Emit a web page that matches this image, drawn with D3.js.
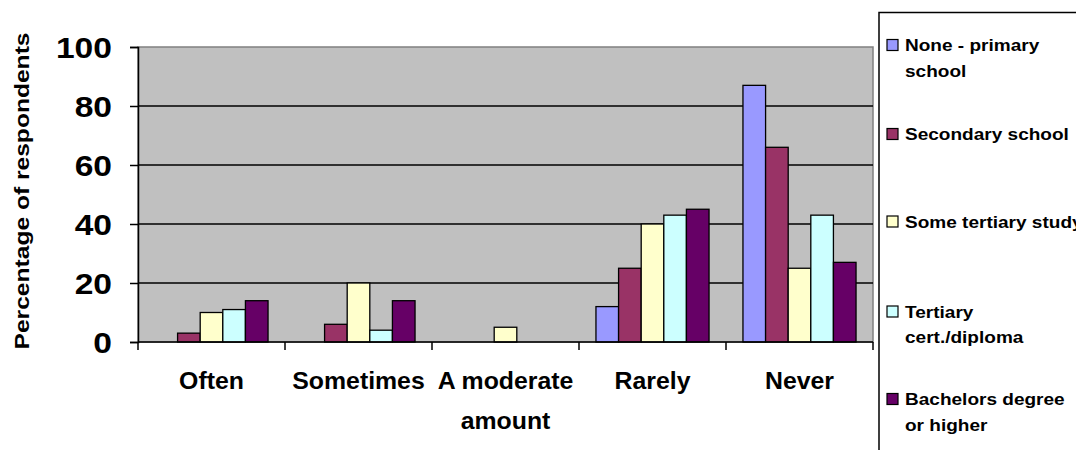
<!DOCTYPE html>
<html>
<head>
<meta charset="utf-8">
<script src="https://cdn.jsdelivr.net/npm/d3@7"></script>
<style>
  html, body { margin: 0; padding: 0; background: #fff; }
  svg { display: block; }
  text { font-family: "Liberation Sans", Arial, sans-serif; font-weight: bold; fill: #000; }
</style>
</head>
<body>
<svg id="chart" width="1076" height="450"></svg>
<script>
// Frequency categories along the x axis
const categories = ["Often", "Sometimes", "A moderate amount", "Rarely", "Never"];
// Category labels as drawn (wrapped lines)
const categoryLines = [["Often"], ["Sometimes"], ["A moderate", "amount"], ["Rarely"], ["Never"]];

// Education groups (series)
const seriesNames = ["None - primary school", "Secondary school", "Some tertiary study", "Tertiary cert./diploma", "Bachelors degree or higher"];
const legendLines = [["None - primary", "school"], ["Secondary school"], ["Some tertiary study"], ["Tertiary", "cert./diploma"], ["Bachelors degree", "or higher"]];
const seriesColors = ["#9999FF", "#993366", "#FFFFCC", "#CCFFFF", "#660066"];

// Percentage of respondents per category, one array per education group
const nonePrimary   = [0, 0, 0, 12, 87];
const secondary     = [3, 6, 0, 25, 66];
const someTertiary  = [10, 20, 5, 40, 25];
const tertiaryCert  = [11, 4, 0, 43, 43];
const bachelors     = [14, 14, 0, 45, 27];
const seriesValues = [nonePrimary, secondary, someTertiary, tertiaryCert, bachelors];

const yTicks = [0, 20, 40, 60, 80, 100];
const yTitle = "Percentage of respondents";

const svg = d3.select("#chart");
const plot = { left: 138, right: 873, top: 47, bottom: 342 };

const x0 = d3.scaleBand().domain(categories).range([plot.left, plot.right]).paddingInner(0).paddingOuter(0);
const x1 = d3.scaleBand().domain(seriesNames).range([0, x0.bandwidth()]).paddingInner(0).paddingOuter(0.75);
const y = d3.scaleLinear().domain([0, 100]).range([plot.bottom, plot.top]);

// Plot area background
svg.append("rect")
  .attr("x", plot.left).attr("y", plot.top)
  .attr("width", plot.right - plot.left).attr("height", plot.bottom - plot.top)
  .attr("fill", "#C0C0C0").attr("stroke", "#808080").attr("stroke-width", 1.5);

// Horizontal gridlines
svg.append("g").selectAll("line")
  .data(yTicks.filter(t => t > 0 && t < 100))
  .join("line")
  .attr("x1", plot.left).attr("x2", plot.right)
  .attr("y1", d => y(d)).attr("y2", d => y(d))
  .attr("stroke", "#000").attr("stroke-width", 1.5);

// Bars
const groups = svg.append("g").selectAll("g")
  .data(categories)
  .join("g")
  .attr("transform", d => `translate(${x0(d)},0)`);

groups.selectAll("rect")
  .data((c, ci) => seriesNames.map((s, si) => ({ s, si, v: seriesValues[si][ci] })).filter(d => d.v > 0))
  .join("rect")
  .attr("x", d => x1(d.s))
  .attr("width", x1.bandwidth())
  .attr("y", d => y(d.v))
  .attr("height", d => y(0) - y(d.v))
  .attr("fill", d => seriesColors[d.si])
  .attr("stroke", "#000").attr("stroke-width", 1.3);

// Y axis
const yAxis = d3.axisLeft(y).tickValues(yTicks).tickSize(8).tickFormat("");
const yg = svg.append("g").attr("transform", `translate(${plot.left},0)`).call(yAxis);
yg.selectAll("path, line").attr("stroke", "#000").attr("stroke-width", 1.5);

yg.selectAll(".tick").append("text")
  .attr("transform", "translate(-26,0) scale(1.12,1)")
  .attr("text-anchor", "end")
  .attr("dy", "0.36em")
  .style("font-size", "30px")
  .style("fill", "#000")
  .text(d => d);

// X axis with ticks on category boundaries
const xg = svg.append("g");
xg.append("line")
  .attr("x1", plot.left).attr("x2", plot.right)
  .attr("y1", plot.bottom).attr("y2", plot.bottom)
  .attr("stroke", "#000").attr("stroke-width", 1.5);
const boundaries = categories.map(c => x0(c)).concat([x0(categories[categories.length - 1]) + x0.bandwidth()]);
xg.selectAll("line.tk")
  .data(boundaries)
  .join("line")
  .attr("class", "tk")
  .attr("x1", d => d).attr("x2", d => d)
  .attr("y1", plot.bottom).attr("y2", plot.bottom + 8)
  .attr("stroke", "#000").attr("stroke-width", 1.5);

// Category labels
const catLabels = svg.append("g").selectAll("g")
  .data(categories)
  .join("g")
  .attr("transform", d => `translate(${x0(d) + x0.bandwidth() / 2},381) scale(1.08,1)`);
catLabels.selectAll("text")
  .data((d, i) => categoryLines[i])
  .join("text")
  .attr("text-anchor", "middle")
  .attr("y", (d, i) => i * 40)
  .attr("dy", "0.36em")
  .style("font-size", "23px")
  .text(d => d);

// Y axis title
svg.append("text")
  .attr("transform", "translate(29,191) rotate(-90)")
  .attr("text-anchor", "middle")
  .attr("textLength", 317)
  .attr("lengthAdjust", "spacingAndGlyphs")
  .style("font-size", "20px")
  .text(yTitle);

// Legend
const legend = svg.append("g");
legend.append("rect")
  .attr("x", 879).attr("y", 12.5)
  .attr("width", 220).attr("height", 460)
  .attr("fill", "#fff").attr("stroke", "#000").attr("stroke-width", 1.5);

const legendY = [45, 134, 221.5, 311.5, 399];
const items = legend.selectAll("g.item")
  .data(seriesNames)
  .join("g")
  .attr("class", "item")
  .attr("transform", (d, i) => `translate(0,${legendY[i]})`);
items.append("rect")
  .attr("x", 887).attr("y", -5.5)
  .attr("width", 11).attr("height", 11)
  .attr("fill", (d, i) => seriesColors[i])
  .attr("stroke", "#000").attr("stroke-width", 1.2);
items.append("g")
  .attr("transform", "translate(905,0) scale(1.12,1)")
  .selectAll("text")
  .data((d, i) => legendLines[i])
  .join("text")
  .attr("y", (d, i) => i * 25.5)
  .attr("dy", "0.36em")
  .style("font-size", "17px")
  .text(d => d);
</script>
</body>
</html>
